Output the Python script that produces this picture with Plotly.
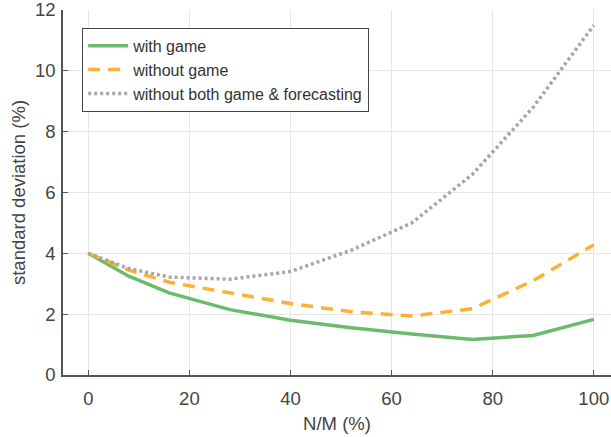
import plotly.graph_objects as go

x_vals = [0, 8, 16, 28, 40, 52, 64, 76, 88, 100]
with_game = [4.0, 3.25, 2.7, 2.15, 1.8, 1.55, 1.35, 1.17, 1.3, 1.83]
without_game = [4.0, 3.45, 3.05, 2.7, 2.35, 2.08, 1.94, 2.18, 3.1, 4.28]
without_both = [4.0, 3.5, 3.22, 3.15, 3.4, 4.1, 5.0, 6.6, 8.8, 11.5]
names = ["with game", "without game", "without both game &amp; forecasting"]

fig = go.Figure()
fig.add_trace(go.Scatter(x=x_vals, y=with_game, mode="lines", name=names[0],
                         line=dict(color="#6cbb6c", width=3.5)))
fig.add_trace(go.Scatter(x=x_vals, y=without_game, mode="lines", name=names[1],
                         line=dict(color="#f9b233", width=3.5, dash="12px,8px")))
fig.add_trace(go.Scatter(x=x_vals, y=without_both, mode="lines", name=names[2],
                         line=dict(color="#a6a6a6", width=3.5, dash="3px,3px")))

axis_common = dict(showline=True, linecolor="#555555", linewidth=1.5,
                   ticks="inside", ticklen=5, tickcolor="#555555",
                   showgrid=True, gridcolor="#e6e6e6", gridwidth=1,
                   zeroline=False, tickfont=dict(size=18.5, color="#444444"),
                   title_font=dict(size=18.5, color="#444444"),
                   ticklabeloverflow="allow")

fig.update_layout(
    width=611, height=437,
    margin=dict(l=63, r=0, t=10, b=62),
    paper_bgcolor="white", plot_bgcolor="white",
    font=dict(family="Liberation Sans, Arial, sans-serif", color="#333333"),
    xaxis=dict(range=[-5, 103.4], tickvals=[0, 20, 40, 60, 80, 100],
               title=dict(text="N/M (%)", standoff=9), ticklabelstandoff=6,
               **axis_common),
    yaxis=dict(range=[0, 12], tickvals=[0, 2, 4, 6, 8, 10, 12],
               title=dict(text="standard deviation (%)", standoff=4),
               ticklabelstandoff=2, **axis_common),
    legend=dict(x=0.035, y=0.951, xanchor="left", yanchor="top",
                bordercolor="#444444", borderwidth=1, bgcolor="white",
                font=dict(size=16, color="#333333"), tracegroupgap=0,
                itemwidth=40),
    showlegend=True,
)

fig.write_html("out.html")
